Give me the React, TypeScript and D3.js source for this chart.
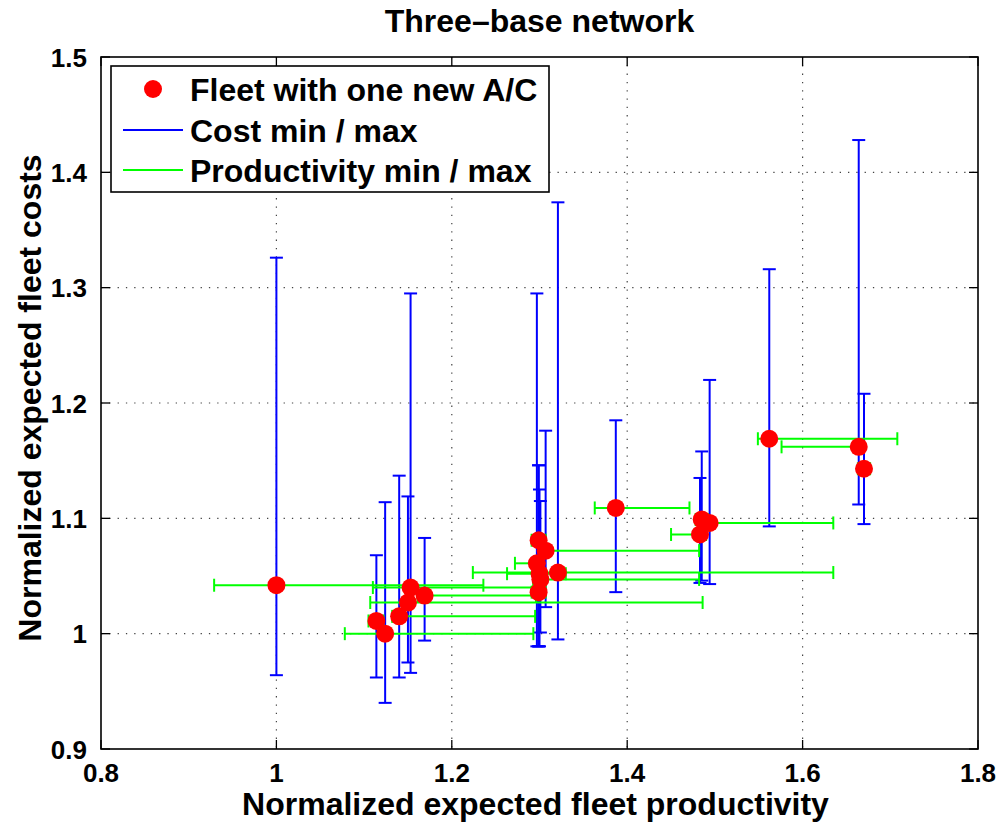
import React, { useEffect, useRef } from 'react';
import * as d3 from 'd3';

// normalized expected fleet productivity (x) and cost (y) per fleet
const productivity = [1.000, 1.114, 1.124, 1.140, 1.150, 1.153, 1.169, 1.299, 1.307, 1.297, 1.300, 1.301, 1.299, 1.321, 1.387, 1.485, 1.494, 1.483, 1.562, 1.664, 1.670];
const cost = [1.042, 1.011, 1.000, 1.015, 1.027, 1.040, 1.033, 1.081, 1.072, 1.061, 1.052, 1.047, 1.036, 1.053, 1.109, 1.099, 1.096, 1.086, 1.169, 1.162, 1.143];
const costMin = [0.964, 0.962, 0.940, 0.962, 0.975, 0.966, 0.994, 0.989, 1.023, 0.989, 0.989, 1.001, 0.989, 0.995, 1.036, 1.046, 1.043, 1.044, 1.093, 1.112, 1.095];
const costMax = [1.326, 1.068, 1.114, 1.137, 1.119, 1.295, 1.083, 1.146, 1.176, 1.295, 1.125, 1.115, 1.146, 1.374, 1.185, 1.158, 1.220, 1.135, 1.316, 1.428, 1.208];
const prodMin = [0.929, 1.105, 1.078, 1.132, 1.107, 1.110, 1.161, 1.291, 1.300, 1.272, 1.263, 1.293, 1.291, 1.224, 1.363, 1.478, 1.487, 1.450, 1.549, 1.576, 1.663];
const prodMax = [1.236, 1.122, 1.293, 1.295, 1.486, 1.293, 1.296, 1.307, 1.482, 1.305, 1.330, 1.482, 1.307, 1.635, 1.471, 1.492, 1.635, 1.490, 1.708, 1.668, 1.677];

const xTicks = [0.8, 1, 1.2, 1.4, 1.6, 1.8];
const yTicks = [0.9, 1, 1.1, 1.2, 1.3, 1.4, 1.5];

const legendItems = ['Fleet with one new A/C', 'Cost min / max', 'Productivity min / max'];

const App = () => {
    const ref = useRef<SVGSVGElement>(null);

    const width = 1000;
    const height = 822;
    const left = 101, right = 978, top = 57, bottom = 749;
    const font = "'Liberation Sans', Arial, Helvetica, sans-serif";
    const cap = 6.5;
    const tickLen = 9;

    useEffect(() => {
        const svg = d3.select(ref.current);
        svg.selectAll('*').remove();

        const x = d3.scaleLinear().domain([0.8, 1.8]).range([left, right]);
        const y = d3.scaleLinear().domain([0.9, 1.5]).range([bottom, top]);

        svg.append('rect').attr('width', width).attr('height', height).attr('fill', '#fff');

        // grid
        const grid = svg.append('g').attr('stroke', '#444').attr('stroke-width', 1.2).attr('stroke-dasharray', '1.3,7');
        xTicks.slice(1, -1).forEach(t => {
            grid.append('line').attr('x1', x(t)).attr('x2', x(t)).attr('y1', top).attr('y2', bottom);
        });
        yTicks.slice(1, -1).forEach(t => {
            grid.append('line').attr('x1', left).attr('x2', right).attr('y1', y(t)).attr('y2', y(t));
        });

        // ticks (inward, all four sides)
        const ticks = svg.append('g').attr('stroke', '#000').attr('stroke-width', 1.3);
        xTicks.forEach(t => {
            ticks.append('line').attr('x1', x(t)).attr('x2', x(t)).attr('y1', bottom).attr('y2', bottom - tickLen);
            ticks.append('line').attr('x1', x(t)).attr('x2', x(t)).attr('y1', top).attr('y2', top + tickLen);
        });
        yTicks.forEach(t => {
            ticks.append('line').attr('x1', left).attr('x2', left + tickLen).attr('y1', y(t)).attr('y2', y(t));
            ticks.append('line').attr('x1', right).attr('x2', right - tickLen).attr('y1', y(t)).attr('y2', y(t));
        });

        const data = productivity.map((p, i) => ({
            p, c: cost[i],
            cMin: costMin[i], cMax: costMax[i],
            pMin: prodMin[i], pMax: prodMax[i]
        }));

        // cost error bars
        const blue = svg.append('g').attr('stroke', '#0000ff').attr('stroke-width', 2).attr('fill', 'none');
        data.forEach(d => {
            blue.append('line').attr('x1', x(d.p)).attr('x2', x(d.p)).attr('y1', y(d.cMin)).attr('y2', y(d.cMax));
            blue.append('line').attr('x1', x(d.p) - cap).attr('x2', x(d.p) + cap).attr('y1', y(d.cMin)).attr('y2', y(d.cMin));
            blue.append('line').attr('x1', x(d.p) - cap).attr('x2', x(d.p) + cap).attr('y1', y(d.cMax)).attr('y2', y(d.cMax));
        });

        // productivity error bars
        const green = svg.append('g').attr('stroke', '#00ff00').attr('stroke-width', 2).attr('fill', 'none');
        data.forEach(d => {
            green.append('line').attr('x1', x(d.pMin)).attr('x2', x(d.pMax)).attr('y1', y(d.c)).attr('y2', y(d.c));
            green.append('line').attr('x1', x(d.pMin)).attr('x2', x(d.pMin)).attr('y1', y(d.c) - cap).attr('y2', y(d.c) + cap);
            green.append('line').attr('x1', x(d.pMax)).attr('x2', x(d.pMax)).attr('y1', y(d.c) - cap).attr('y2', y(d.c) + cap);
        });

        // markers
        svg.append('g').selectAll('circle')
            .data(data)
            .enter().append('circle')
            .attr('cx', d => x(d.p))
            .attr('cy', d => y(d.c))
            .attr('r', 9)
            .attr('fill', '#ff0000');

        // axes box
        svg.append('rect')
            .attr('x', left).attr('y', top)
            .attr('width', right - left).attr('height', bottom - top)
            .attr('fill', 'none').attr('stroke', '#000').attr('stroke-width', 1.6);

        // tick labels
        svg.append('g').selectAll('text')
            .data(xTicks)
            .enter().append('text')
            .attr('x', d => x(d))
            .attr('y', 782)
            .attr('text-anchor', 'middle')
            .style('font-family', font).style('font-size', '26px').style('font-weight', 'bold')
            .text(d => d3.format('')(d));

        svg.append('g').selectAll('text')
            .data(yTicks)
            .enter().append('text')
            .attr('x', 87)
            .attr('y', d => y(d) + 9.5)
            .attr('text-anchor', 'end')
            .style('font-family', font).style('font-size', '26px').style('font-weight', 'bold')
            .text(d => d3.format('')(d));

        // title and axis labels
        svg.append('text')
            .attr('x', (left + right) / 2).attr('y', 32)
            .attr('text-anchor', 'middle')
            .style('font-family', font).style('font-size', '32px').style('font-weight', 'bold')
            .text('Three\u2013base network');

        svg.append('text')
            .attr('x', (left + right) / 2 - 4).attr('y', 815)
            .attr('text-anchor', 'middle')
            .style('font-family', font).style('font-size', '32px').style('font-weight', 'bold')
            .text('Normalized expected fleet productivity');

        svg.append('text')
            .attr('transform', `translate(41, ${(top + bottom) / 2 - 5}) rotate(-90)`)
            .attr('text-anchor', 'middle')
            .style('font-family', font).style('font-size', '32px').style('font-weight', 'bold')
            .text('Normalized expected fleet costs');

        // legend
        const lg = svg.append('g');
        lg.append('rect')
            .attr('x', 111).attr('y', 66).attr('width', 438).attr('height', 126)
            .attr('fill', '#fff').attr('stroke', '#000').attr('stroke-width', 1.6);
        lg.append('circle').attr('cx', 153).attr('cy', 89).attr('r', 9).attr('fill', '#ff0000');
        lg.append('line').attr('x1', 123).attr('x2', 183).attr('y1', 130).attr('y2', 130).attr('stroke', '#0000ff').attr('stroke-width', 2);
        lg.append('line').attr('x1', 123).attr('x2', 183).attr('y1', 170).attr('y2', 170).attr('stroke', '#00ff00').attr('stroke-width', 2);
        lg.selectAll('text.legend')
            .data(legendItems)
            .enter().append('text')
            .attr('class', 'legend')
            .attr('x', 190)
            .attr('y', (d, i) => 101 + i * 40.5)
            .style('font-family', font).style('font-size', '32px').style('font-weight', 'bold')
            .text(d => d);
    }, []);

    return <svg ref={ref} width={width} height={height} style={{ position: 'absolute', left: 0, top: 0 }}></svg>;
};

export default App;
